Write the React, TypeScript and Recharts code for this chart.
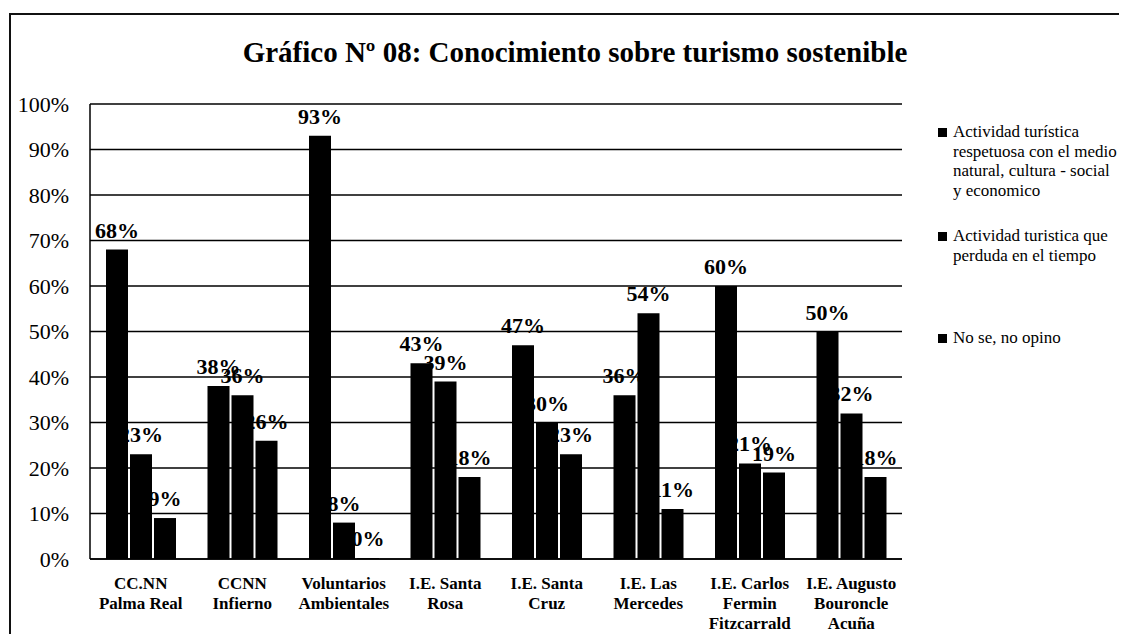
import React from 'react';
import { BarChart, Bar, XAxis, YAxis, CartesianGrid, LabelList } from 'recharts';

const categories = [
  'CC.NN\nPalma Real',
  'CCNN\nInfierno',
  'Voluntarios\nAmbientales',
  'I.E. Santa\nRosa',
  'I.E. Santa\nCruz',
  'I.E. Las\nMercedes',
  'I.E. Carlos\nFermin\nFitzcarrald',
  'I.E. Augusto\nBouroncle\nAcuña',
];

const respetuosa = [68, 38, 93, 43, 47, 36, 60, 50];
const perdura = [23, 36, 8, 39, 30, 54, 21, 32];
const noOpino = [9, 26, 0, 18, 23, 11, 19, 18];

const yTicks = [0, 10, 20, 30, 40, 50, 60, 70, 80, 90, 100];

const legendItems = [
  ['Actividad turística', 'respetuosa con el medio', 'natural, cultura - social', 'y economico'],
  ['Actividad turistica que', 'perduda en el tiempo'],
  ['No se, no opino'],
];

const data = categories.map((name, i) => ({
  name,
  a: respetuosa[i],
  b: perdura[i],
  c: noOpino[i],
}));

const serif = '"Liberation Serif", "Times New Roman", serif';

// etiqueta del eje X en varias líneas
const CategoryTick = ({ x, y, payload }: any) => {
  const lines = String(payload.value).split('\n');
  return (
    <text x={x} y={y} textAnchor="middle" fontFamily={serif} fontWeight="bold" fontSize={17} fill="#000">
      {lines.map((l, i) => (
        <tspan key={i} x={x} dy={i === 0 ? 28 : 20}>
          {l}
        </tspan>
      ))}
    </text>
  );
};

// porcentaje encima de cada barra
const renderValue = (props: any) => {
  const { x, y, width, value } = props;
  if (x == null || y == null) return null;
  return (
    <text
      x={Number(x) + Number(width) / 2}
      y={Number(y) - 12}
      textAnchor="middle"
      fontFamily={serif}
      fontWeight="bold"
      fontSize={22}
      fill="#000"
    >
      {`${value}%`}
    </text>
  );
};

export default function App() {
  const legendTops = [114, 218, 320];
  return (
    <div style={{ position: 'relative', width: 1119, height: 626, overflow: 'hidden', background: '#fff' }}>
      {/* marco exterior */}
      <div
        style={{
          position: 'absolute',
          left: 1,
          top: 5,
          width: 1300,
          height: 800,
          borderTop: '2px solid #111',
          borderLeft: '2px solid #111',
        }}
      />
      <div
        style={{
          position: 'absolute',
          left: 0,
          width: 1134,
          top: 26,
          textAlign: 'center',
          fontFamily: serif,
          fontWeight: 'bold',
          fontSize: 29,
          lineHeight: '36px',
          color: '#000',
        }}
      >
        Gráfico Nº 08: Conocimiento sobre turismo sostenible
      </div>
      <div style={{ position: 'absolute', left: 0, top: 0 }}>
        <BarChart
          width={900}
          height={626}
          data={data}
          margin={{ top: 96, right: 6, left: 0, bottom: 5 }}
          barSize={22}
          barGap={2}
        >
          <CartesianGrid vertical={false} stroke="#000" strokeWidth={1.5} />
          <XAxis
            dataKey="name"
            axisLine={{ stroke: '#000', strokeWidth: 1.5 }}
            tickLine={false}
            tickSize={0}
            height={70}
            interval={0}
            tick={<CategoryTick />}
          />
          <YAxis
            domain={[0, 100]}
            ticks={yTicks}
            width={82}
            axisLine={{ stroke: '#000', strokeWidth: 1.5 }}
            tickLine={false}
            tickSize={0}
            tickMargin={21}
            tickFormatter={(v) => `${v}%`}
            tick={{ fontFamily: serif, fontSize: 22, fill: '#000' }}
          />
          <Bar dataKey="a" fill="#000" isAnimationActive={false}>
            <LabelList dataKey="a" content={renderValue} />
          </Bar>
          <Bar dataKey="b" fill="#000" isAnimationActive={false}>
            <LabelList dataKey="b" content={renderValue} />
          </Bar>
          <Bar dataKey="c" fill="#000" minPointSize={1} isAnimationActive={false}>
            <LabelList dataKey="c" content={renderValue} />
          </Bar>
        </BarChart>
      </div>
      {legendItems.map((lines, i) => (
        <div
          key={i}
          style={{
            position: 'absolute',
            left: 945,
            top: legendTops[i],
            fontFamily: serif,
            fontSize: 17,
            lineHeight: '19.5px',
            color: '#000',
            whiteSpace: 'nowrap',
          }}
        >
          <div style={{ position: 'absolute', left: -15, top: 6, width: 9, height: 9, background: '#000' }} />
          {lines.map((l, j) => (
            <div key={j}>{l}</div>
          ))}
        </div>
      ))}
    </div>
  );
}
